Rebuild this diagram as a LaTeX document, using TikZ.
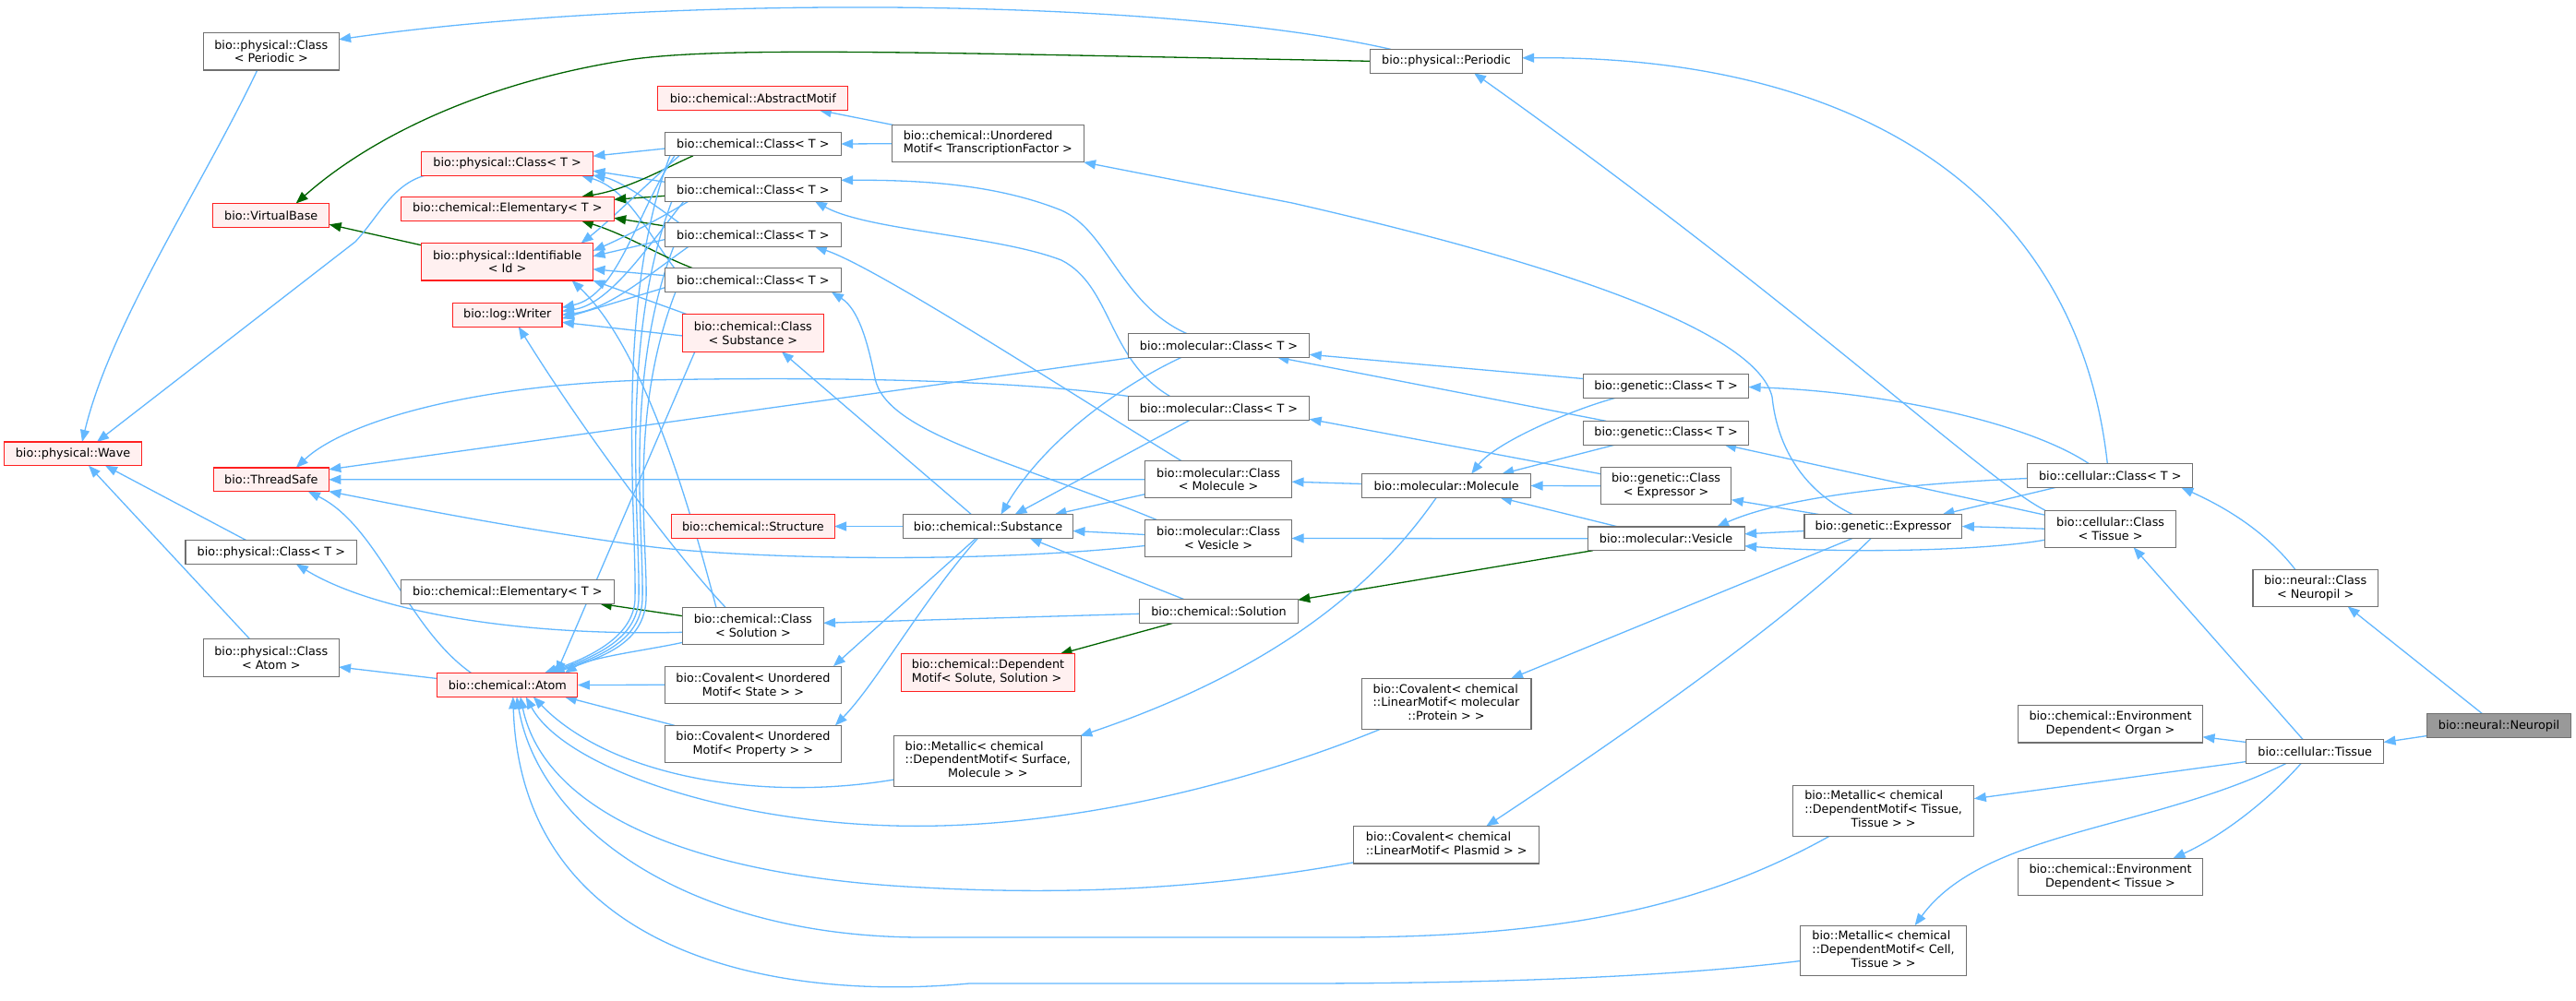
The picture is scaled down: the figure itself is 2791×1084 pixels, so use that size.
\documentclass[tikz,border=0pt]{standalone}
\usepackage{fontspec}
\setmainfont{DejaVu Sans}
\usetikzlibrary{arrows.meta}
\pgfdeclarelayer{bg}
\pgfdeclarelayer{paper}
\pgfsetlayers{paper,bg,main}
\definecolor{edgeblue}{HTML}{63B8FF}
\definecolor{edgegreen}{HTML}{006400}
\definecolor{nodegray}{HTML}{707070}
\definecolor{truncred}{HTML}{FF2020}
\definecolor{truncfill}{HTML}{FFF0F0}
\definecolor{curfill}{HTML}{999999}
\newcommand\dxfont{\fontsize{12.8pt}{14.7pt}\selectfont}
\newcommand\lblk[1]{\begin{tabular}{@{}l@{}}#1\end{tabular}}
\newcommand\cln[1]{\multicolumn{1}{@{}c@{}}{#1}}
\tikzset{
  nd/.style={draw=nodegray, line width=1.1pt, fill=white, inner sep=0pt, outer sep=0pt, align=center, font=\dxfont, text=black},
  cls/.style={nd},
  trunc/.style={nd, draw=truncred, fill=truncfill},
  cur/.style={nd, fill=curfill},
  h1/.style={minimum height=25.7pt},
  h2/.style={minimum height=40.3pt},
  h3/.style={minimum height=54.7pt},
  pub/.style={draw=edgeblue, line width=1.3pt, -{Triangle[length=13pt,width=10pt]}},
  prot/.style={draw=edgegreen, line width=1.3pt, -{Triangle[length=13pt,width=10pt]}}
}
\begin{document}
\begin{tikzpicture}[x=1pt,y=-1pt]
\begin{pgfonlayer}{paper}
\fill[white] (0,0) rectangle (2791,1084);
\end{pgfonlayer}
\useasboundingbox (0,0) rectangle (2791,1084);
% ---------- nodes ----------
\node[cls,h2,minimum width=146.5pt] (pcper) at (293.8,55.8) {bio::physical::Class\\< Periodic >};
\node[trunc,h1,minimum width=126pt] (vbase) at (293.7,233.3) {bio::VirtualBase};
\node[trunc,h1,minimum width=185.7pt] (pclst) at (549.6,177.2) {bio::physical::Class< T >};
\node[trunc,h1,minimum width=230.8pt] (elem) at (549.8,226.3) {bio::chemical::Elementary< T >};
\node[trunc,h2,minimum width=185.7pt] (ident) at (549.6,283.8) {bio::physical::Identifiable\\< Id >};
\node[trunc,h1,minimum width=118.4pt] (writer) at (549.8,341.3) {bio::log::Writer};
\node[trunc,h1,minimum width=205.8pt] (absmotif) at (815.8,106.7) {bio::chemical::AbstractMotif};
\node[cls,h1,minimum width=190.6pt] (cc1) at (815.9,156) {bio::chemical::Class< T >};
\node[cls,h2,minimum width=207.6pt] (umotif) at (1070.3,155.7) {\lblk{bio::chemical::Unordered\\Motif< TranscriptionFactor >}};
\node[cls,h1,minimum width=190.6pt] (cc2) at (815.9,205.3) {bio::chemical::Class< T >};
\node[cls,h1,minimum width=190.6pt] (cc3) at (815.9,254.5) {bio::chemical::Class< T >};
\node[cls,h1,minimum width=190.6pt] (cc4) at (815.9,303.7) {bio::chemical::Class< T >};
\node[trunc,h2,minimum width=152.3pt] (ccsub) at (815.9,361) {bio::chemical::Class\\< Substance >};
\node[cls,h1,minimum width=164.3pt] (periodic) at (1567,66.3) {bio::physical::Periodic};
\node[trunc,h1,minimum width=148.2pt] (wave) at (79,491.8) {bio::physical::Wave};
\node[trunc,h1,minimum width=125pt] (tsafe) at (293.8,519.8) {bio::ThreadSafe};
\node[cls,h1,minimum width=185.7pt] (pclst2) at (293.8,598.5) {bio::physical::Class< T >};
\node[cls,h1,minimum width=230.8pt] (elem2) at (549.8,641.5) {bio::chemical::Elementary< T >};
\node[cls,h2,minimum width=146.5pt] (pcatom) at (293.8,713) {bio::physical::Class\\< Atom >};
\node[trunc,h1,minimum width=152.2pt] (atom) at (549.8,742.5) {bio::chemical::Atom};
\node[cls,h2,minimum width=152.3pt] (ccsol) at (815.9,678.3) {bio::chemical::Class\\< Solution >};
\node[trunc,h1,minimum width=176.3pt] (structure) at (815.9,570.5) {bio::chemical::Structure};
\node[cls,h1,minimum width=183.9pt] (substance) at (1070.5,570.5) {bio::chemical::Substance};
\node[cls,h1,minimum width=196.4pt] (mc1) at (1320.5,374.3) {bio::molecular::Class< T >};
\node[cls,h1,minimum width=196.4pt] (mc2) at (1320.5,442.3) {bio::molecular::Class< T >};
\node[cls,h2,minimum width=159pt] (mcmol) at (1320,519.7) {bio::molecular::Class\\< Molecule >};
\node[cls,h2,minimum width=159pt] (mcves) at (1320,583.5) {bio::molecular::Class\\< Vesicle >};
\node[cls,h1,minimum width=171.5pt] (solution) at (1320.5,662.3) {bio::chemical::Solution};
\node[trunc,h2,minimum width=188.4pt] (depmotif) at (1070.5,729) {\lblk{bio::chemical::Dependent\\Motif< Solute, Solution >}};
\node[cls,h1,minimum width=179pt] (gc1) at (1805.1,418.5) {bio::genetic::Class< T >};
\node[cls,h1,minimum width=179pt] (gc2) at (1805.1,469.2) {bio::genetic::Class< T >};
\node[cls,h2,minimum width=141.5pt] (gcexp) at (1805.1,526.7) {bio::genetic::Class\\< Expressor >};
\node[cls,h1,minimum width=182.6pt] (molecule) at (1567.2,526.5) {bio::molecular::Molecule};
\node[cls,h1,minimum width=170.1pt] (vesicle) at (1805.1,583.8) {bio::molecular::Vesicle};
\node[cls,h1,minimum width=170.9pt] (expressor) at (2040.4,570.5) {bio::genetic::Expressor};
\node[cls,h1,minimum width=179pt] (cellt) at (2286.3,515.5) {bio::cellular::Class< T >};
\node[cls,h2,minimum width=141.9pt] (celltis) at (2286.6,573.2) {bio::cellular::Class\\< Tissue >};
\node[cls,h2,minimum width=135.3pt] (ncneu) at (2508.6,637.2) {bio::neural::Class\\< Neuropil >};
\node[cls,h2,minimum width=200pt] (envorg) at (2286.5,784.8) {bio::chemical::Environment\\Dependent< Organ >};
\node[cls,h1,minimum width=148.6pt] (tissue) at (2508.2,814.5) {bio::cellular::Tissue};
\node[cur,h1,minimum width=155.4pt] (neuropil) at (2707.5,786.5) {bio::neural::Neuropil};
\node[cls,h2,minimum width=200pt] (envtis) at (2286.5,950.5) {bio::chemical::Environment\\Dependent< Tissue >};
\node[cls,h2,minimum width=190.6pt] (covstate) at (815.9,742.3) {bio::Covalent< Unordered\\Motif< State > >};
\node[cls,h2,minimum width=190.6pt] (covprop) at (815.9,806.5) {bio::Covalent< Unordered\\Motif< Property > >};
\node[cls,h3,minimum width=203.1pt] (metsurf) at (1070.3,825) {\lblk{bio::Metallic< chemical\\::DependentMotif< Surface,\\\cln{Molecule > >}}};
\node[cls,h3,minimum width=183.9pt] (covprot) at (1567,762.8) {\lblk{bio::Covalent< chemical\\::LinearMotif< molecular\\\cln{::Protein > >}}};
\node[cls,h2,minimum width=201.3pt] (covplas) at (1567.2,915.8) {\lblk{bio::Covalent< chemical\\::LinearMotif< Plasmid > >}};
\node[cls,h3,minimum width=196.4pt] (mettis) at (2040.6,878.7) {\lblk{bio::Metallic< chemical\\::DependentMotif< Tissue,\\\cln{Tissue > >}}};
\node[cls,h3,minimum width=179.4pt] (metcell) at (2040.6,1030.5) {\lblk{bio::Metallic< chemical\\::DependentMotif< Cell,\\\cln{Tissue > >}}};
% ---------- edges ----------
\begin{pgfonlayer}{bg}
% top region
\draw[pub] ([xshift=-60pt]periodic.north) .. controls (1250,-5) and (700,-5) .. ([yshift=13pt]pcper.east);
\draw[prot] (periodic.west) .. controls (1000,57) and (780,50) .. (680,65) .. controls (520,90) and (400,150) .. ([xshift=27pt]vbase.north);
\draw[prot] ([yshift=18pt]ident.west) -- ([yshift=-10pt]vbase.east);
\draw[pub] ([xshift=-15pt]pcper.south) .. controls (220,200) and (120,350) .. ([xshift=10pt]wave.north);
\draw[pub] ([xshift=4pt]pclst.south west) .. controls (425,200) and (410,235) .. (385,262) -- ([xshift=26pt]wave.north);
\draw[pub] ([xshift=-27pt]pclst2.north) -- ([xshift=35pt]wave.south);
\draw[pub] ([xshift=-23pt]pcatom.north) -- ([xshift=17pt]wave.south);
\draw[pub] ([yshift=7pt]atom.west) -- ([yshift=-10pt]pcatom.east);
\draw[pub] ([xshift=-39pt]atom.north) .. controls (440,680) and (410,570) .. ([xshift=40pt]tsafe.south);
% ThreadSafe
\draw[pub] (mc2.north west) .. controls (1100,412) and (900,408) .. (700,412) .. controls (500,418) and (370,460) .. ([xshift=27pt]tsafe.north);
\draw[pub] ([xshift=7pt]mc1.south west) -- ([yshift=11pt]tsafe.east);
\draw[pub] (mcmol.west) -- (tsafe.east);
\draw[pub] ([yshift=-8pt]mcves.west) .. controls (1050,612) and (800,605) .. (700,592) .. controls (550,572) and (420,545) .. (tsafe.south east);
% chemical Class< Solution >
\draw[prot] ([yshift=10.6pt]ccsol.west) -- ([xshift=100pt]elem2.south);
\draw[pub] ([yshift=-7pt]ccsol.west) .. controls (550,690) and (400,660) .. ([xshift=27pt]pclst2.south);
\draw[pub] ([yshift=-3pt]solution.west) -- ([yshift=3pt]ccsol.east);
\draw[pub] ([xshift=-38pt]solution.north) -- ([xshift=45pt]substance.south);
\draw[prot] ([xshift=-49pt]solution.south) -- ([xshift=78pt]depmotif.north);
\draw[prot] ([xshift=-79pt]vesicle.south) -- ([yshift=12pt]solution.east);
% Substance
\draw[pub] (substance.west) -- (structure.east);
\draw[pub] ([xshift=-18pt]substance.north) -- ([xshift=31pt]ccsub.south);
\draw[pub] ([yshift=-16pt]mcmol.west) -- ([xshift=72pt]substance.north);
\draw[pub] ([yshift=4pt]mcves.west) -- ([yshift=-5pt]substance.east);
\draw[pub] ([xshift=-40pt]mc1.south) .. controls (1210,420) and (1130,480) .. ([xshift=14pt]substance.north);
\draw[pub] ([xshift=-31pt]mc2.south) -- ([xshift=29pt]substance.north);
% molecular / genetic
\draw[pub] ([yshift=2pt]molecule.west) -- ([yshift=-2.5pt]mcmol.east);
\draw[pub] (vesicle.west) -- (mcves.east);
\draw[pub] ([xshift=-52pt]vesicle.north) -- ([xshift=58pt]molecule.south);
\draw[pub] (gcexp.west) -- (molecule.east);
\draw[pub] ([xshift=-55pt]gc2.south) -- ([xshift=60pt]molecule.north);
\draw[pub] ([xshift=-55pt]gc1.south) .. controls (1700,445) and (1620,480) .. ([xshift=27pt]molecule.north);
\draw[pub] ([yshift=8pt]gc1.west) -- ([yshift=-10pt]mc1.east);
\draw[pub] ([xshift=-65pt]gc2.north) -- ([xshift=63pt]mc1.south);
\draw[pub] ([yshift=13pt]gcexp.west) -- ([yshift=-12pt]mc2.east);
\draw[pub] ([xshift=-69pt]expressor.north) -- ([yshift=-15pt]gcexp.east);
\draw[pub] ([yshift=-5pt]expressor.west) -- ([yshift=5pt]vesicle.east);
\draw[pub] ([xshift=-33pt]expressor.north) .. controls (1950,530) and (1925,480) .. (1920,430) .. controls (1905,370) and (1750,300) .. (1400,220) -- (umotif.south east);
% cellular
\draw[pub] ([yshift=-3pt]cellt.west) .. controls (2050,525) and (1930,540) .. ([xshift=55pt]vesicle.north);
\draw[pub] ([xshift=-59pt]cellt.south) -- ([xshift=64pt]expressor.north);
\draw[pub] (celltis.west) -- (expressor.east);
\draw[pub] ([yshift=-12pt]celltis.west) .. controls (2150,597) and (2000,600) .. ([yshift=-8pt]vesicle.east);
\draw[pub] ([yshift=15pt]celltis.west) -- ([xshift=63pt]gc2.south);
\draw[pub] ([xshift=-23pt]cellt.north) .. controls (2200,460) and (2050,425) .. ([yshift=-1pt]gc1.east);
\draw[pub] ([xshift=-3pt]cellt.north) .. controls (2250,200) and (2000,60) .. ([yshift=3.5pt]periodic.east);
\draw[pub] (celltis.north west) .. controls (2150,520) and (1950,330) .. ([xshift=30pt]periodic.south);
\draw[pub] ([xshift=-22pt]ncneu.north) .. controls (2450,570) and (2400,545) .. ([xshift=77pt]cellt.south);
\draw[pub] ([xshift=-13pt]tissue.north) -- ([xshift=25pt]celltis.south);
\draw[pub] ([xshift=-18pt]neuropil.north) -- ([xshift=35pt]ncneu.south);
\draw[pub] ([yshift=-11pt]neuropil.west) -- ([yshift=10pt]tissue.east);
\draw[pub] ([yshift=10pt]tissue.west) -- ([yshift=-14pt]envorg.east);
\draw[pub] ([xshift=-15pt]tissue.south) .. controls (2460,865) and (2410,905) .. ([xshift=68pt]envtis.north);
\draw[pub] ([yshift=-11pt]tissue.west) -- ([yshift=13pt]mettis.east);
\draw[pub] ([xshift=-31pt]tissue.south) .. controls (2330,900) and (2150,900) .. ([xshift=34pt]metcell.north);
% Expressor / Molecule / Substance to motifs
\draw[pub] ([xshift=-33pt]expressor.south) -- ([xshift=70pt]covprot.north);
\draw[pub] ([xshift=-13pt]expressor.south) .. controls (1950,660) and (1800,770) .. ([xshift=43pt]covplas.north);
\draw[pub] ([xshift=-11pt]molecule.south) .. controls (1500,620) and (1400,720) .. ([xshift=100pt]metsurf.north);
\draw[pub] ([xshift=-13pt]substance.south) -- ([xshift=87pt]covstate.north);
\draw[pub] ([xshift=-11pt]substance.south) .. controls (1000,650) and (950,740) .. ([xshift=89pt]covprop.north);
% into Atom
\draw[pub] (covstate.west) -- (atom.east);
\draw[pub] ([xshift=-85pt]covprop.north) -- ([xshift=62pt]atom.south);
\draw[pub] ([yshift=-20pt]metsurf.west) .. controls (820,870) and (660,840) .. ([xshift=28pt]atom.south);
\draw[pub] ([xshift=-71pt]covprot.south) .. controls (1350,850) and (1150,900) .. (968,895) .. controls (780,890) and (610,830) .. ([xshift=20pt]atom.south);
\draw[pub] ([yshift=-19pt]covplas.west) .. controls (1300,965) and (1150,970) .. (1000,962) .. controls (750,950) and (590,880) .. ([xshift=14pt]atom.south);
\draw[pub] ([xshift=-58pt]mettis.south) .. controls (1850,980) and (1700,1016) .. (1450,1016) -- (1000,1016) .. controls (750,1016) and (585,900) .. ([xshift=10pt]atom.south);
\draw[pub] ([yshift=-11pt]metcell.west) .. controls (1800,1060) and (1600,1066) .. (1400,1066) -- (1050,1066) .. controls (850,1085) and (565,1040) .. ([xshift=6pt]atom.south);
% motif / class templates
\draw[pub] (umotif.west) -- (cc1.east);
\draw[pub] ([xshift=-102pt]umotif.north) -- ([xshift=72pt]absmotif.south);
\draw[pub] ([xshift=-35pt]mc1.north) .. controls (1215,330) and (1200,250) .. (1150,228) .. controls (1080,200) and (1000,195) .. ([yshift=10pt]cc2.east);
\draw[pub] ([xshift=-53pt]mc2.north) .. controls (1200,390) and (1205,310) .. (1150,282) .. controls (1080,255) and (940,250) .. ([xshift=67pt]cc2.south);
\draw[pub] ([xshift=-40pt]mcmol.north) .. controls (1150,420) and (950,290) .. ([xshift=67pt]cc3.south);
\draw[pub] ([xshift=-67pt]mcves.north) .. controls (1100,500) and (960,470) .. (948,410) .. controls (940,370) and (930,335) .. ([xshift=85pt]cc4.south);
% tangle: chemical::Class< T > to bases
\draw[pub] ([yshift=-5pt]cc1.west) -- ([yshift=8pt]pclst.east);
\draw[pub] ([yshift=8pt]cc2.west) -- ([yshift=-8pt]pclst.east);
\draw[pub] ([xshift=-80pt]cc3.north) .. controls (700,215) and (670,195) .. (pclst.south east);
\draw[pub] ([xshift=-85pt]cc4.north) .. controls (700,250) and (680,205) .. ([xshift=80pt]pclst.south);
\draw[prot] ([xshift=-65pt]cc1.south) .. controls (715,185) and (680,205) .. ([xshift=80pt]elem.north);
\draw[prot] ([yshift=-7pt]cc2.west) -- ([yshift=10pt]elem.east);
\draw[prot] ([yshift=9.5pt]cc3.west) -- ([yshift=-10pt]elem.east);
\draw[prot] ([xshift=-65pt]cc4.north) .. controls (710,275) and (680,255) .. ([xshift=80pt]elem.south);
\draw[pub] ([xshift=-80pt]cc1.south) .. controls (700,200) and (660,240) .. ([xshift=80pt]ident.north);
\draw[pub] ([xshift=-70pt]cc2.south) .. controls (710,240) and (670,260) .. ([yshift=12pt]ident.east);
\draw[pub] ([yshift=-5pt]cc3.west) -- ([yshift=6pt]ident.east);
\draw[pub] ([yshift=5pt]cc4.west) -- ([yshift=-8pt]ident.east);
\draw[pub] ([xshift=5pt]ccsub.north west) -- (ident.south east);
\draw[pub] ([xshift=-40pt]ccsol.north) .. controls (750,560) and (700,380) .. ([xshift=70pt]ident.south);
\draw[pub] ([xshift=-85pt]cc1.south) .. controls (690,230) and (670,320) .. ([yshift=8pt]writer.east);
\draw[pub] ([xshift=-75pt]cc2.south) .. controls (700,270) and (660,330) .. ([yshift=4pt]writer.east);
\draw[pub] ([xshift=-70pt]cc3.south) .. controls (700,300) and (660,335) .. (writer.east);
\draw[pub] ([yshift=-8pt]cc4.west) -- ([yshift=-4pt]writer.east);
\draw[pub] ([yshift=-3pt]ccsub.west) -- ([yshift=-8pt]writer.east);
\draw[pub] ([xshift=-30pt]ccsol.north) .. controls (740,610) and (640,480) .. ([xshift=12pt]writer.south);
\draw[pub] ([xshift=-90pt]cc1.south) .. controls (665,330) and (690,560) .. (688,650) .. controls (686,690) and (640,712) .. ([xshift=40pt]atom.north);
\draw[pub] ([xshift=-88pt]cc2.south) .. controls (670,370) and (694,570) .. (692,650) .. controls (690,692) and (645,712) .. ([xshift=43pt]atom.north);
\draw[pub] ([xshift=-86pt]cc3.south) .. controls (675,410) and (698,580) .. (696,650) .. controls (694,694) and (650,712) .. ([xshift=46pt]atom.north);
\draw[pub] ([xshift=-84pt]cc4.south) .. controls (680,450) and (702,590) .. (700,650) .. controls (698,696) and (655,712) .. ([xshift=49pt]atom.north);
\draw[pub] ([xshift=-63pt]ccsub.south) -- ([xshift=53pt]atom.north);
\draw[pub] ([yshift=-18pt]ccsol.west) .. controls (700,705) and (640,712) .. ([xshift=62pt]atom.north);
\end{pgfonlayer}
\end{tikzpicture}
\end{document}
